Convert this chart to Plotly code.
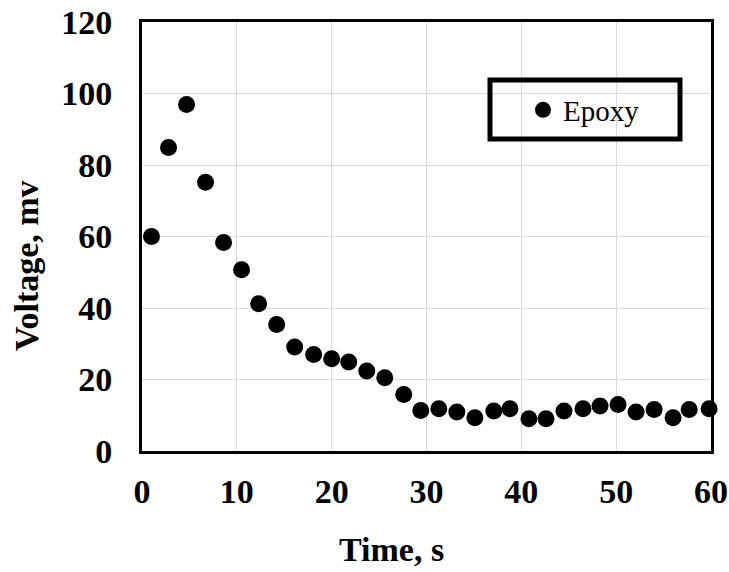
import plotly.graph_objects as go

time_s = [1.0, 2.8, 4.7, 6.7, 8.6, 10.5, 12.3, 14.2, 16.1, 18.1, 20.0, 21.8, 23.7, 25.6,
          27.6, 29.4, 31.3, 33.2, 35.1, 37.1, 38.8, 40.8, 42.6, 44.5, 46.5, 48.3, 50.2,
          52.1, 54.0, 56.0, 57.7, 59.8]
voltage_mv = [60.0, 84.9, 96.9, 75.2, 58.3, 50.7, 41.2, 35.4, 29.1, 27.0, 25.8, 24.9, 22.4,
              20.5, 15.8, 11.3, 11.8, 10.9, 9.3, 11.2, 11.8, 9.0, 9.0, 11.2, 11.8, 12.6,
              13.0, 10.9, 11.6, 9.3, 11.6, 11.8]
x_ticks = [0, 10, 20, 30, 40, 50, 60]
y_ticks = [0, 20, 40, 60, 80, 100, 120]
series_name = "Epoxy"
x_title = "Time, s"
y_title = "Voltage, mv"

W, H = 729, 572
L, R, T, B = 142, 18, 22, 121
pw, ph = W - L - R, H - T - B

def px_x(p):
    return (p - L) / pw

def px_y(p):
    return (H - B - p) / ph

FONT = "Liberation Serif"

fig = go.Figure()
fig.add_trace(go.Scatter(
    x=time_s, y=voltage_mv, mode="markers", name=series_name,
    marker=dict(color="black", size=17), cliponaxis=False,
))

fig.update_layout(
    width=W, height=H,
    margin=dict(l=L, r=R, t=T, b=B, pad=0, autoexpand=False),
    paper_bgcolor="white", plot_bgcolor="white",
    showlegend=True,
    legend=dict(
        x=px_x(523), y=px_y(110), xanchor="left", yanchor="middle",
        bgcolor="rgba(0,0,0,0)", borderwidth=0,
        font=dict(family=FONT, size=29, color="black"),
        itemsizing="trace",
    ),
    xaxis=dict(
        range=[0, 60], tickvals=x_ticks, ticks="", showgrid=True,
        gridcolor="#d9d9d9", gridwidth=1, zeroline=False, automargin=False,
        showline=True, linecolor="black", linewidth=3, mirror=True,
        tickfont=dict(family=FONT, size=34, color="black", weight="bold"),
        ticklabelstandoff=8,
    ),
    yaxis=dict(
        range=[0, 120], tickvals=y_ticks, ticks="", showgrid=True,
        gridcolor="#d9d9d9", gridwidth=1, zeroline=False, automargin=False,
        showline=True, linecolor="black", linewidth=3, mirror=True,
        tickfont=dict(family=FONT, size=34, color="black", weight="bold"),
        ticklabelstandoff=20,
    ),
    shapes=[dict(
        type="rect", xref="paper", yref="paper",
        x0=px_x(490), x1=px_x(680), y0=px_y(139), y1=px_y(80),
        line=dict(color="black", width=5), fillcolor="rgba(0,0,0,0)",
    )],
    annotations=[
        dict(text=x_title, xref="paper", yref="paper", x=px_x(391), y=px_y(549),
             xanchor="center", yanchor="middle", showarrow=False,
             font=dict(family=FONT, size=34, color="black", weight="bold")),
        dict(text=y_title, xref="paper", yref="paper", x=px_x(26), y=px_y(266),
             xanchor="center", yanchor="middle", showarrow=False, textangle=-90,
             font=dict(family=FONT, size=34, color="black", weight="bold")),
    ],
)

fig.write_html("out.html")
